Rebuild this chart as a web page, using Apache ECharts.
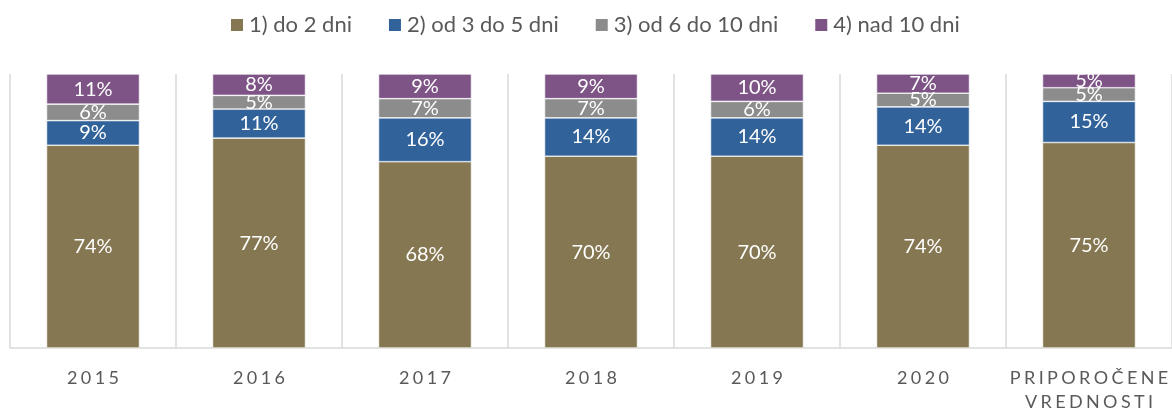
<!DOCTYPE html>
<html lang="sl">
<head>
    <meta charset="UTF-8">
    <title>Trajanje</title>
    <script src="https://cdn.jsdelivr.net/npm/echarts@6/dist/echarts.min.js"></script>
    <style>
        html, body { margin: 0; padding: 0; background: #fff; }
        #graph { width: 1172px; height: 410px; }
    </style>
</head>
<body>
<div id="graph"></div>
<script>
    // data (shares in %)
    var categories = ['2015', '2016', '2017', '2018', '2019', '2020', 'PRIPOROČENE\nVREDNOSTI'];
    var seriesNames = ['1) do 2 dni', '2) od 3 do 5 dni', '3) od 6 do 10 dni', '4) nad 10 dni'];
    var upTo2 = [74, 76.6, 68, 70, 70, 74, 75];
    var from3to5 = [9, 10.6, 16, 14, 14, 14, 15];
    var from6to10 = [6, 5.0, 7, 7, 6, 5, 5];
    var over10 = [11, 7.8, 9, 9, 10, 7, 5];
    var colors = ['#857751', '#31639A', '#8C8C8C', '#7E5487'];

    // spaced-out letters like the original axis labels
    function spread(s) {
        return s.split('\n').map(function (line) {
            return line.split('').join('\u2009\u200A');
        }).join('\n');
    }

    var chartDom = document.getElementById('graph');
    var myChart = echarts.init(chartDom);
    var allData = [upTo2, from3to5, from6to10, over10];

    var series = allData.map(function (d, i) {
        return {
            name: seriesNames[i],
            type: 'bar',
            stack: 'total',
            barWidth: '56%',
            data: d,
            itemStyle: { color: colors[i], borderColor: '#fff', borderWidth: 0.6 },
            label: {
                show: true,
                position: 'inside',
                color: '#fff',
                fontFamily: 'Lato',
                fontSize: 20,
                formatter: function (p) { return Math.round(p.value) + '%'; }
            }
        };
    });

    var option = {
        animation: false,
        color: colors,
        legend: {
            top: 9,
            left: 224,
            itemWidth: 14,
            itemHeight: 14,
            itemGap: 35,
            icon: 'rect',
            textStyle: { color: '#595959', fontFamily: 'Lato', fontSize: 22 },
            data: seriesNames
        },
        grid: { left: 10, right: 0, top: 74, bottom: 62, containLabel: false, outerBoundsMode: 'none' },
        xAxis: {
            type: 'category',
            data: categories,
            axisLine: { lineStyle: { color: '#D9D9D9', width: 1.5 } },
            axisTick: { show: false },
            splitLine: { show: true, lineStyle: { color: '#D9D9D9', width: 1.5 } },
            axisLabel: {
                color: '#595959',
                fontFamily: 'Lato',
                fontSize: 18,
                margin: 18,
                lineHeight: 24,
                interval: 0,
                formatter: spread
            }
        },
        yAxis: {
            type: 'value',
            min: 0,
            max: 100,
            show: false
        },
        series: series
    };

    option && myChart.setOption(option);
</script>
</body>
</html>
